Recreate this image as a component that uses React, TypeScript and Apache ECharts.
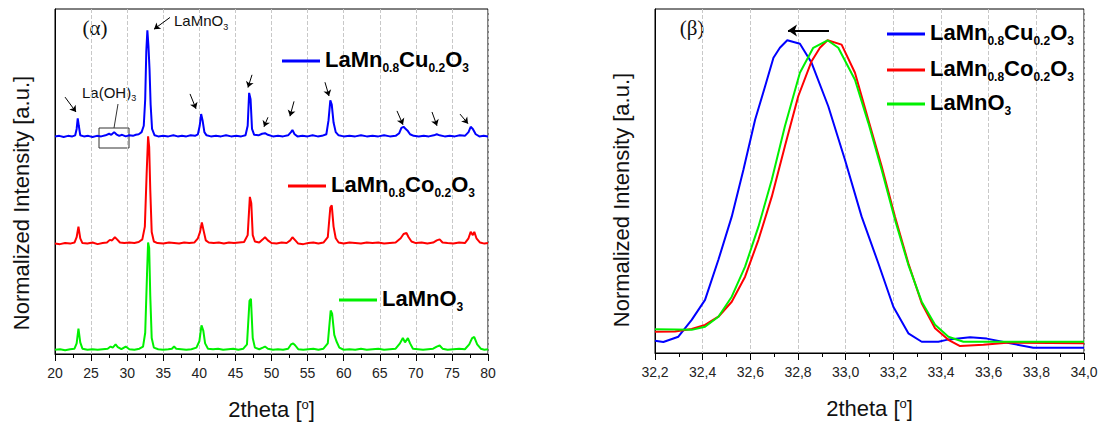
import React, { useEffect, useRef } from "react";
import * as echarts from "echarts";

const FONT = "'Liberation Sans', Arial, sans-serif";

const NAMES = ["LaMn0.8Cu0.2O3", "LaMn0.8Co0.2O3", "LaMnO3"];
const COLORS = ["#0000ff", "#ff0000", "#00f000"];
const RICH_NAMES: Record<string, string> = {
  "LaMn0.8Cu0.2O3": "{m|LaMn}{s|0.8}{m|Cu}{s|0.2}{m|O}{s|3}",
  "LaMn0.8Co0.2O3": "{m|LaMn}{s|0.8}{m|Co}{s|0.2}{m|O}{s|3}",
  LaMnO3: "{m|LaMnO}{s|3}",
};
// vertical offsets used to stack the XRD patterns in panel (α)
const OFFSETS = [2, 1, 0];

// panel (α): full XRD patterns, normalized intensity (main peak ≈ 1 above baseline)
const CU_XRD: [number, number][] = [
  [20, 0.05], [20.6, 0.055], [21.2, 0.045], [21.8, 0.055], [22.4, 0.05], [22.8, 0.06], [23.0, 0.12], [23.15, 0.22],
  [23.3, 0.15], [23.5, 0.06], [24.0, 0.05], [24.6, 0.055], [25.2, 0.045], [25.8, 0.055], [26.4, 0.05], [27.0, 0.06],
  [27.5, 0.075], [27.8, 0.065], [28.2, 0.09], [28.5, 0.07], [28.9, 0.055], [29.3, 0.065], [29.8, 0.05], [30.3, 0.06],
  [30.8, 0.055], [31.2, 0.065], [31.6, 0.07], [32.0, 0.09], [32.3, 0.15], [32.5, 0.4], [32.65, 0.85], [32.8, 1.05],
  [32.95, 0.9], [33.1, 0.68], [33.25, 0.35], [33.45, 0.12], [33.8, 0.06], [34.3, 0.05], [35.0, 0.055], [35.7, 0.05],
  [36.4, 0.06], [37.0, 0.05], [37.6, 0.055], [38.2, 0.05], [38.8, 0.06], [39.4, 0.055], [39.8, 0.07], [40.05, 0.15],
  [40.25, 0.26], [40.45, 0.2], [40.7, 0.09], [41.0, 0.06], [41.6, 0.05], [42.3, 0.055], [43.0, 0.05], [43.7, 0.06],
  [44.4, 0.05], [45.1, 0.055], [45.8, 0.05], [46.4, 0.06], [46.7, 0.15], [46.9, 0.46], [47.1, 0.4], [47.3, 0.12],
  [47.6, 0.065], [48.2, 0.06], [48.7, 0.075], [49.1, 0.08], [49.5, 0.065], [50.2, 0.05], [50.9, 0.055], [51.6, 0.05],
  [52.3, 0.06], [52.7, 0.09], [52.9, 0.11], [53.2, 0.07], [53.6, 0.05], [54.3, 0.055], [55.0, 0.05], [55.7, 0.06],
  [56.4, 0.05], [57.0, 0.055], [57.6, 0.07], [57.9, 0.2], [58.15, 0.39], [58.35, 0.35], [58.6, 0.18], [58.9, 0.09],
  [59.3, 0.06], [60.0, 0.05], [60.8, 0.055], [61.6, 0.05], [62.4, 0.06], [63.2, 0.05], [64.0, 0.055], [64.8, 0.05],
  [65.6, 0.06], [66.4, 0.05], [67.2, 0.055], [67.7, 0.08], [68.0, 0.13], [68.3, 0.14], [68.6, 0.12], [68.9, 0.1],
  [69.2, 0.07], [69.7, 0.055], [70.4, 0.05], [71.1, 0.055], [71.8, 0.05], [72.5, 0.06], [72.9, 0.07], [73.3, 0.06],
  [74.0, 0.05], [74.7, 0.055], [75.4, 0.05], [76.1, 0.06], [76.8, 0.055], [77.3, 0.09], [77.6, 0.14], [77.9, 0.12],
  [78.3, 0.07], [78.8, 0.05], [79.4, 0.055], [80, 0.05],
];
const CO_XRD: [number, number][] = [
  [20, 0.04], [20.7, 0.035], [21.4, 0.045], [22.1, 0.04], [22.7, 0.05], [23.0, 0.1], [23.25, 0.2], [23.5, 0.09],
  [23.8, 0.045], [24.5, 0.04], [25.2, 0.05], [25.9, 0.035], [26.6, 0.045], [27.2, 0.05], [27.6, 0.075], [27.9, 0.07],
  [28.3, 0.1], [28.6, 0.08], [29.0, 0.05], [29.6, 0.045], [30.3, 0.05], [31.0, 0.045], [31.6, 0.055], [32.1, 0.08],
  [32.45, 0.2], [32.7, 0.7], [32.9, 1.05], [33.05, 0.95], [33.2, 0.55], [33.4, 0.15], [33.7, 0.06], [34.2, 0.045],
  [35.0, 0.04], [35.8, 0.05], [36.5, 0.045], [37.2, 0.04], [37.9, 0.05], [38.6, 0.045], [39.3, 0.05], [39.8, 0.09],
  [40.1, 0.15], [40.35, 0.24], [40.6, 0.16], [40.9, 0.07], [41.3, 0.05], [42.0, 0.045], [42.7, 0.05], [43.4, 0.04],
  [44.1, 0.05], [44.8, 0.045], [45.5, 0.05], [46.2, 0.055], [46.7, 0.12], [47.0, 0.48], [47.2, 0.42], [47.4, 0.12],
  [47.7, 0.06], [48.3, 0.05], [48.8, 0.08], [49.1, 0.1], [49.5, 0.07], [50.0, 0.045], [50.7, 0.04], [51.4, 0.05],
  [52.1, 0.045], [52.6, 0.07], [52.9, 0.1], [53.3, 0.07], [53.7, 0.04], [54.4, 0.035], [55.1, 0.045], [55.8, 0.05],
  [56.5, 0.04], [57.2, 0.05], [57.8, 0.1], [58.15, 0.38], [58.35, 0.4], [58.6, 0.2], [58.9, 0.09], [59.3, 0.05],
  [60.0, 0.04], [60.8, 0.05], [61.6, 0.045], [62.4, 0.04], [63.2, 0.05], [64.0, 0.045], [64.8, 0.05], [65.6, 0.04],
  [66.4, 0.045], [67.2, 0.05], [67.9, 0.09], [68.3, 0.13], [68.7, 0.14], [69.0, 0.1], [69.4, 0.06], [70.0, 0.045],
  [70.8, 0.05], [71.6, 0.04], [72.4, 0.05], [72.9, 0.07], [73.3, 0.08], [73.7, 0.05], [74.4, 0.045], [75.2, 0.04],
  [76.0, 0.05], [76.8, 0.045], [77.3, 0.09], [77.6, 0.15], [77.9, 0.12], [78.1, 0.15], [78.4, 0.09], [78.9, 0.05],
  [79.5, 0.04], [80, 0.045],
];
const LMO_XRD: [number, number][] = [
  [20, 0.04], [20.7, 0.045], [21.4, 0.035], [22.1, 0.045], [22.7, 0.05], [23.0, 0.1], [23.25, 0.24], [23.5, 0.11],
  [23.8, 0.05], [24.5, 0.04], [25.2, 0.045], [25.9, 0.04], [26.6, 0.045], [27.3, 0.05], [27.7, 0.07], [28.0, 0.06],
  [28.4, 0.09], [28.7, 0.065], [29.2, 0.045], [29.8, 0.07], [30.3, 0.045], [31.0, 0.04], [31.7, 0.05], [32.2, 0.07],
  [32.5, 0.2], [32.75, 0.75], [32.9, 1.05], [33.05, 1.0], [33.2, 0.55], [33.4, 0.15], [33.7, 0.06], [34.3, 0.045],
  [35.0, 0.04], [35.7, 0.045], [36.2, 0.05], [36.5, 0.07], [36.8, 0.05], [37.5, 0.045], [38.2, 0.04], [38.9, 0.045],
  [39.6, 0.06], [40.0, 0.12], [40.3, 0.27], [40.55, 0.22], [40.8, 0.1], [41.2, 0.05], [41.9, 0.045], [42.6, 0.05],
  [43.3, 0.04], [44.0, 0.045], [44.7, 0.05], [45.4, 0.04], [46.1, 0.05], [46.6, 0.09], [46.95, 0.5], [47.15, 0.52],
  [47.4, 0.15], [47.7, 0.06], [48.3, 0.045], [48.8, 0.06], [49.1, 0.07], [49.5, 0.05], [50.2, 0.04], [50.9, 0.045],
  [51.6, 0.04], [52.3, 0.05], [52.7, 0.09], [53.0, 0.1], [53.3, 0.08], [53.7, 0.045], [54.4, 0.04], [55.1, 0.045],
  [55.8, 0.05], [56.5, 0.04], [57.2, 0.05], [57.8, 0.1], [58.2, 0.41], [58.4, 0.38], [58.7, 0.18], [59.0, 0.12],
  [59.4, 0.06], [60.0, 0.04], [60.8, 0.045], [61.6, 0.04], [62.4, 0.05], [63.2, 0.04], [64.0, 0.045], [64.8, 0.05],
  [65.6, 0.04], [66.4, 0.045], [67.2, 0.05], [67.8, 0.1], [68.2, 0.15], [68.5, 0.11], [68.9, 0.15], [69.2, 0.1],
  [69.6, 0.05], [70.3, 0.045], [71.0, 0.04], [71.7, 0.045], [72.4, 0.05], [72.9, 0.07], [73.3, 0.08], [73.7, 0.05],
  [74.4, 0.04], [75.2, 0.045], [76.0, 0.05], [76.8, 0.045], [77.4, 0.09], [77.8, 0.15], [78.1, 0.16], [78.5, 0.09],
  [79.0, 0.05], [79.5, 0.04], [80, 0.045],
];

// panel (β): zoom on the main reflection
const CU_PEAK: [number, number][] = [
  [32.2, 0.039], [32.235, 0.035], [32.298, 0.052], [32.354, 0.106], [32.41, 0.17], [32.466, 0.298], [32.522, 0.436],
  [32.571, 0.586], [32.62, 0.746], [32.662, 0.853], [32.697, 0.944], [32.724, 0.976], [32.755, 1.0], [32.808, 0.989],
  [32.857, 0.928], [32.927, 0.789], [32.997, 0.618], [33.067, 0.436], [33.137, 0.287], [33.2, 0.148], [33.263, 0.063],
  [33.319, 0.036], [33.389, 0.036], [33.424, 0.042], [33.522, 0.05], [33.592, 0.046], [33.69, 0.031], [33.787, 0.017],
  [34.0, 0.017],
];
const CO_PEAK: [number, number][] = [
  [32.2, 0.068], [32.284, 0.069], [32.354, 0.077], [32.41, 0.09], [32.466, 0.116], [32.522, 0.164], [32.578, 0.244],
  [32.634, 0.362], [32.69, 0.5], [32.745, 0.661], [32.801, 0.821], [32.857, 0.933], [32.892, 0.976], [32.924, 1.0],
  [32.983, 0.986], [33.039, 0.896], [33.095, 0.746], [33.151, 0.597], [33.207, 0.436], [33.263, 0.287], [33.319, 0.159],
  [33.375, 0.079], [33.431, 0.042], [33.48, 0.022], [33.578, 0.026], [33.676, 0.033], [34.0, 0.031],
];
const LMO_PEAK: [number, number][] = [
  [32.2, 0.076], [32.284, 0.075], [32.354, 0.074], [32.41, 0.084], [32.466, 0.116], [32.522, 0.18], [32.578, 0.276],
  [32.634, 0.404], [32.69, 0.554], [32.745, 0.725], [32.808, 0.896], [32.864, 0.976], [32.924, 1.0], [32.969, 0.976],
  [33.039, 0.874], [33.095, 0.736], [33.151, 0.586], [33.207, 0.426], [33.263, 0.282], [33.319, 0.164], [33.375, 0.09],
  [33.431, 0.052], [33.494, 0.036], [33.746, 0.036], [34.0, 0.036],
];

const LEFT_X = { min: 20, max: 80, interval: 5 };
const RIGHT_X = { min: 32.2, max: 34.0, interval: 0.2 };

// annotation arrows in panel (α), data coordinates [from, to]
const PEAK_ARROWS: [[number, number], [number, number]][] = [
  [[21.39, 2.42], [22.91, 2.28]],
  [[38.71, 2.45], [39.54, 2.31]],
  [[47.3, 2.63], [46.74, 2.51]],
  [[49.51, 2.23], [48.96, 2.14]],
  [[53.12, 2.38], [52.56, 2.24]],
  [[57.41, 2.56], [57.97, 2.43]],
  [[67.39, 2.29], [68.22, 2.16]],
  [[72.24, 2.28], [72.93, 2.15]],
  [[76.12, 2.26], [77.23, 2.17]],
];
const MAIN_ARROW: [[number, number], [number, number]] = [[35.93, 3.17], [33.72, 3.06]];
const SHIFT_ARROW: [[number, number], [number, number]] = [[32.93, 1.031], [32.758, 1.031]];

const LEFT_DATA = [CU_XRD, CO_XRD, LMO_XRD];
const RIGHT_DATA = [CU_PEAK, CO_PEAK, LMO_PEAK];

const legendText = {
  fontFamily: FONT,
  color: "#000",
  rich: {
    m: { fontSize: 22, fontWeight: "bold" as const, lineHeight: 26, verticalAlign: "top" as const, fontFamily: FONT, color: "#000" },
    s: {
      fontSize: 12,
      fontWeight: "bold" as const,
      lineHeight: 12,
      padding: [20, 0, 0, 0],
      verticalAlign: "bottom" as const,
      fontFamily: FONT,
      color: "#000",
    },
  },
};

function legendItem(name: string, left: number, centerY: number) {
  return {
    data: [name],
    left,
    top: centerY - 16,
    padding: 0,
    itemWidth: 38,
    itemHeight: 3,
    icon: "rect",
    selectedMode: false,
    formatter: (n: string) => RICH_NAMES[n],
    textStyle: legendText,
  };
}

function xAxisCommon(gridIndex: number, range: { min: number; max: number; interval: number }, fmt?: (v: number) => string) {
  return {
    type: "value" as const,
    gridIndex,
    min: range.min,
    max: range.max,
    interval: range.interval,
    axisLine: { show: true, onZero: false, lineStyle: { color: "#000", width: 1 } },
    axisTick: { show: true, length: 7, lineStyle: { color: "#000", width: 1 } },
    minorTick: { show: true, splitNumber: 2, length: 4, lineStyle: { color: "#000", width: 1 } },
    axisLabel: {
      margin: 12,
      fontSize: 14,
      color: "#222",
      fontFamily: FONT,
      formatter: fmt,
      showMinLabel: true,
      showMaxLabel: true,
    },
    splitLine: { show: true, lineStyle: { type: "dashed" as const, color: "#c8c8c8", width: 1 } },
    name: "2theta [{sup|o}]",
    nameLocation: "middle" as const,
    nameGap: 44,
    nameTextStyle: {
      fontSize: 22,
      color: "#111",
      fontFamily: FONT,
      rich: { sup: { fontSize: 13, lineHeight: 13, verticalAlign: "top" as const, color: "#111", fontFamily: FONT } },
    },
  };
}

function yAxisCommon(gridIndex: number, max: number) {
  return {
    type: "value" as const,
    gridIndex,
    min: 0,
    max,
    axisLine: { show: true, lineStyle: { color: "#000" } },
    axisTick: { show: false },
    axisLabel: { show: false },
    splitLine: { show: false },
  };
}

function arrowLine(pairs: [[number, number], [number, number]][], width: number, size: number) {
  return {
    silent: true,
    symbol: ["none", "arrow"],
    symbolSize: size,
    label: { show: false },
    lineStyle: { color: "#000", width, type: "solid" as const },
    data: pairs.map(([a, b]) => [{ coord: a }, { coord: b }]),
  };
}

function buildOption() {
  const series: any[] = [];
  NAMES.forEach((name, i) => {
    series.push({
      type: "line",
      name,
      xAxisIndex: 0,
      yAxisIndex: 0,
      color: COLORS[i],
      symbol: "none",
      lineStyle: { width: 2, color: COLORS[i] },
      data: LEFT_DATA[i].map(([x, y]) => [x, y + OFFSETS[i]]),
      markLine: i === 0 ? arrowLine([...PEAK_ARROWS, MAIN_ARROW], 1, 6) : undefined,
    });
  });
  NAMES.forEach((name, i) => {
    series.push({
      type: "line",
      name,
      xAxisIndex: 1,
      yAxisIndex: 1,
      color: COLORS[i],
      symbol: "none",
      lineStyle: { width: 2, color: COLORS[i] },
      data: RIGHT_DATA[i],
      markLine: i === 0 ? arrowLine([SHIFT_ARROW], 2, 9) : undefined,
    });
  });

  return {
    animation: false,
    backgroundColor: "#fff",
    grid: [
      { left: 55, top: 9, width: 433, height: 348, show: true, borderColor: "#000", borderWidth: 1, backgroundColor: "transparent" },
      { left: 655, top: 9, width: 429, height: 344, show: true, borderColor: "#000", borderWidth: 1, backgroundColor: "transparent" },
    ],
    xAxis: [
      xAxisCommon(0, LEFT_X),
      xAxisCommon(1, RIGHT_X, (v: number) => v.toFixed(1).replace(".", ",")),
    ],
    yAxis: [yAxisCommon(0, 3.25), yAxisCommon(1, 1.1)],
    legend: [
      legendItem(NAMES[0], 282, 58),
      legendItem(NAMES[1], 288, 183),
      legendItem(NAMES[2], 339, 297),
      legendItem(NAMES[0], 887, 31),
      legendItem(NAMES[1], 887, 67),
      legendItem(NAMES[2], 887, 101),
    ],
    series,
    graphic: [
      {
        type: "text",
        x: 21.5,
        y: 203,
        rotation: Math.PI / 2,
        style: { text: "Normalized Intensity [a.u.]", fontSize: 22, fontFamily: FONT, fill: "#111", align: "center", verticalAlign: "middle" },
      },
      {
        type: "text",
        x: 621.7,
        y: 200,
        rotation: Math.PI / 2,
        style: { text: "Normalized Intensity [a.u.]", fontSize: 22, fontFamily: FONT, fill: "#111", align: "center", verticalAlign: "middle" },
      },
      {
        type: "text",
        x: 95,
        y: 28,
        style: { text: "(α)", fontSize: 21, fontFamily: "'Liberation Serif', 'Times New Roman', serif", fill: "#111", align: "center", verticalAlign: "middle" },
      },
      {
        type: "text",
        x: 692,
        y: 28,
        style: { text: "(β)", fontSize: 21, fontFamily: "'Liberation Serif', 'Times New Roman', serif", fill: "#111", align: "center", verticalAlign: "middle" },
      },
      {
        type: "text",
        x: 174,
        y: 13,
        style: {
          text: "{m|LaMnO}{s|3}",
          fill: "#111",
          rich: {
            m: { fontSize: 15, lineHeight: 18, verticalAlign: "top", fontFamily: FONT, fill: "#111" },
            s: { fontSize: 9, lineHeight: 9, padding: [12, 0, 0, 0], verticalAlign: "bottom", fontFamily: FONT, fill: "#111" },
          },
        },
      },
      {
        type: "text",
        x: 82,
        y: 84.5,
        style: {
          text: "{m|La(OH)}{s|3}",
          fill: "#111",
          rich: {
            m: { fontSize: 15, lineHeight: 18, verticalAlign: "top", fontFamily: FONT, fill: "#111" },
            s: { fontSize: 9, lineHeight: 9, padding: [13, 0, 0, 0], verticalAlign: "bottom", fontFamily: FONT, fill: "#111" },
          },
        },
      },
      {
        type: "line",
        shape: { x1: 118, y1: 104, x2: 114, y2: 128 },
        style: { stroke: "#333", lineWidth: 1 },
      },
      {
        type: "rect",
        shape: { x: 99, y: 128, width: 30, height: 20 },
        style: { fill: "none", stroke: "#333", lineWidth: 1 },
      },
    ],
  };
}

export default function App() {
  const ref = useRef<HTMLDivElement>(null);
  useEffect(() => {
    if (!ref.current) return;
    const chart = echarts.init(ref.current, null, { renderer: "svg" });
    chart.setOption(buildOption() as any);
    return () => chart.dispose();
  }, []);
  return (
    <div
      ref={ref}
      style={{ position: "absolute", left: 0, top: 0, width: 1101, height: 425, background: "#fff" }}
    />
  );
}
